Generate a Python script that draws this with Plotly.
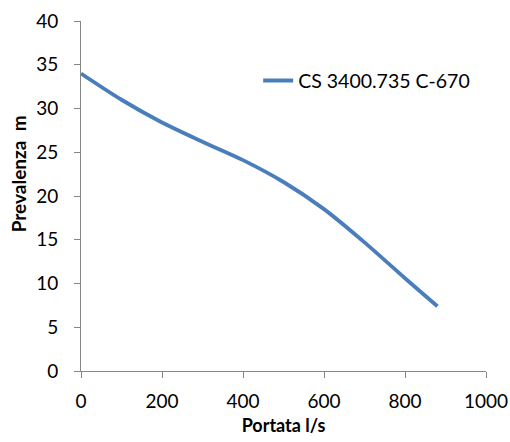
import plotly.graph_objects as go

portata = [0, 100, 200, 300, 400, 500, 600, 700, 800, 880]
prevalenza = [34.0, 31.0, 28.4, 26.2, 24.1, 21.6, 18.5, 14.7, 10.6, 7.4]
series_name = "CS 3400.735 C-670"
x_ticks = [0, 200, 400, 600, 800, 1000]
y_ticks = [0, 5, 10, 15, 20, 25, 30, 35, 40]

FONT = "Lato"
fig = go.Figure()
fig.add_trace(go.Scatter(
    x=portata, y=prevalenza, mode="lines", name=series_name,
    line=dict(color="#4a7ebb", width=3.8, shape="spline", smoothing=0.8),
))

axis_common = dict(
    showgrid=False, zeroline=False, showline=True, linecolor="#868686", linewidth=1,
    ticks="outside", ticklen=6, tickcolor="#868686", tickwidth=1,
    tickfont=dict(family=FONT, size=19, color="#000000"),
    automargin=False,
)
fig.update_xaxes(range=[0, 1000], tickvals=x_ticks, ticklabelstandoff=7,
                 title=dict(text="<b>Portata l/s</b>", font=dict(family=FONT, size=18, color="#000"), standoff=8),
                 **axis_common)
fig.update_yaxes(range=[0, 40], tickvals=y_ticks, ticklabelstandoff=12, **axis_common)

fig.add_annotation(text="<b>Prevalenza  m</b>", xref="paper", yref="paper",
                   x=(19 - 80.7) / 405.3, y=(370.7 - 174) / 349.4, textangle=-90,
                   showarrow=False, font=dict(family=FONT, size=19, color="#000"),
                   xanchor="center", yanchor="middle")

fig.update_layout(
    width=510, height=442,
    margin=dict(l=80.7, r=24, t=21.3, b=71.3, autoexpand=False),
    paper_bgcolor="white", plot_bgcolor="white",
    showlegend=True,
    legend=dict(x=(258 - 80.7) / 405.3, y=(370.7 - 81) / 349.4, xanchor="left", yanchor="middle",
                font=dict(family=FONT, size=19.5, color="#000"), bgcolor="rgba(0,0,0,0)"),
)
fig.write_html("out.html", config={"displayModeBar": False},
               post_script="document.body.style.margin='0';document.body.style.overflow='hidden';")
